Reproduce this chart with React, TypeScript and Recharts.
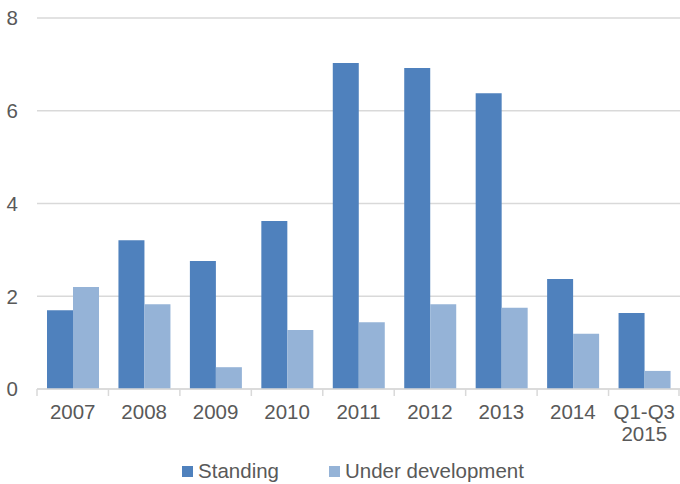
import { Bar, BarChart, CartesianGrid, Legend, XAxis, YAxis } from 'recharts';

const categories = ['2007', '2008', '2009', '2010', '2011', '2012', '2013', '2014', 'Q1-Q3\n2015'];
const standing = [1.7, 3.21, 2.76, 3.62, 7.03, 6.92, 6.38, 2.37, 1.64];
const underDevelopment = [2.2, 1.83, 0.47, 1.27, 1.44, 1.83, 1.75, 1.19, 0.39];
const yTicks = [0, 2, 4, 6, 8];

const data = categories.map((name, i) => ({
  name,
  standing: standing[i],
  underDevelopment: underDevelopment[i],
}));

const W = 680;
const H = 484;
const LEFT = 37;
const BAND = (W - LEFT) / categories.length;
const GREY = '#595959';
const FONT = 'Liberation Sans, Arial, sans-serif';
const FS = 20.5;

function XTick({ x, y, payload }: any) {
  const lines = String(payload.value).split('\n');
  return (
    <g>
      <line x1={x - BAND / 2} x2={x - BAND / 2} y1={y - 8} y2={y - 1} stroke="#D9D9D9" strokeWidth={1.5} />
      {payload.index === categories.length - 1 && (
        <line x1={x + BAND / 2 - 1} x2={x + BAND / 2 - 1} y1={y - 8} y2={y - 1} stroke="#D9D9D9" strokeWidth={1.5} />
      )}
      <text x={x} y={y + 24} textAnchor="middle" fill={GREY} fontSize={FS} fontFamily={FONT}>
        {lines.map((l, i) => (
          <tspan key={i} x={x} dy={i === 0 ? -2 : 22}>
            {l}
          </tspan>
        ))}
      </text>
    </g>
  );
}

function LegendContent() {
  const items = [
    { label: 'Standing', color: '#4F81BD' },
    { label: 'Under development', color: '#95B3D7' },
  ];
  return (
    <div style={{ display: 'flex', justifyContent: 'center', gap: 50, fontFamily: FONT, fontSize: FS, color: GREY, paddingLeft: 26 }}>
      {items.map((it) => (
        <div key={it.label} style={{ display: 'flex', alignItems: 'center' }}>
          <span style={{ width: 11, height: 11, background: it.color, display: 'inline-block', marginRight: 5 }} />
          {it.label}
        </div>
      ))}
    </div>
  );
}

export default function App() {
  return (
    <div style={{ position: 'absolute', left: 0, top: 0, width: W, height: H, background: '#fff' }}>
      <BarChart
        width={W}
        height={H}
        data={data}
        margin={{ top: 18, right: 0, left: 0, bottom: 1 }}
        barCategoryGap="14%"
        barGap={0}
      >
        <CartesianGrid vertical={false} stroke="#D9D9D9" strokeWidth={1.5} />
        <XAxis
          dataKey="name"
          stroke="#D9D9D9"
          strokeWidth={1.5}
          tickLine={false}
          interval={0}
          height={70}
          tick={<XTick />}
        />
        <YAxis
          width={LEFT}
          domain={[0, 8]}
          ticks={yTicks}
          axisLine={false}
          tickLine={false}
          tickSize={0}
          tickMargin={19}
          tick={{ fill: GREY, fontSize: FS, fontFamily: FONT }}
        />
        <Legend verticalAlign="bottom" content={<LegendContent />} />
        <Bar dataKey="standing" name="Standing" fill="#4F81BD" isAnimationActive={false} />
        <Bar dataKey="underDevelopment" name="Under development" fill="#95B3D7" isAnimationActive={false} />
      </BarChart>
    </div>
  );
}
